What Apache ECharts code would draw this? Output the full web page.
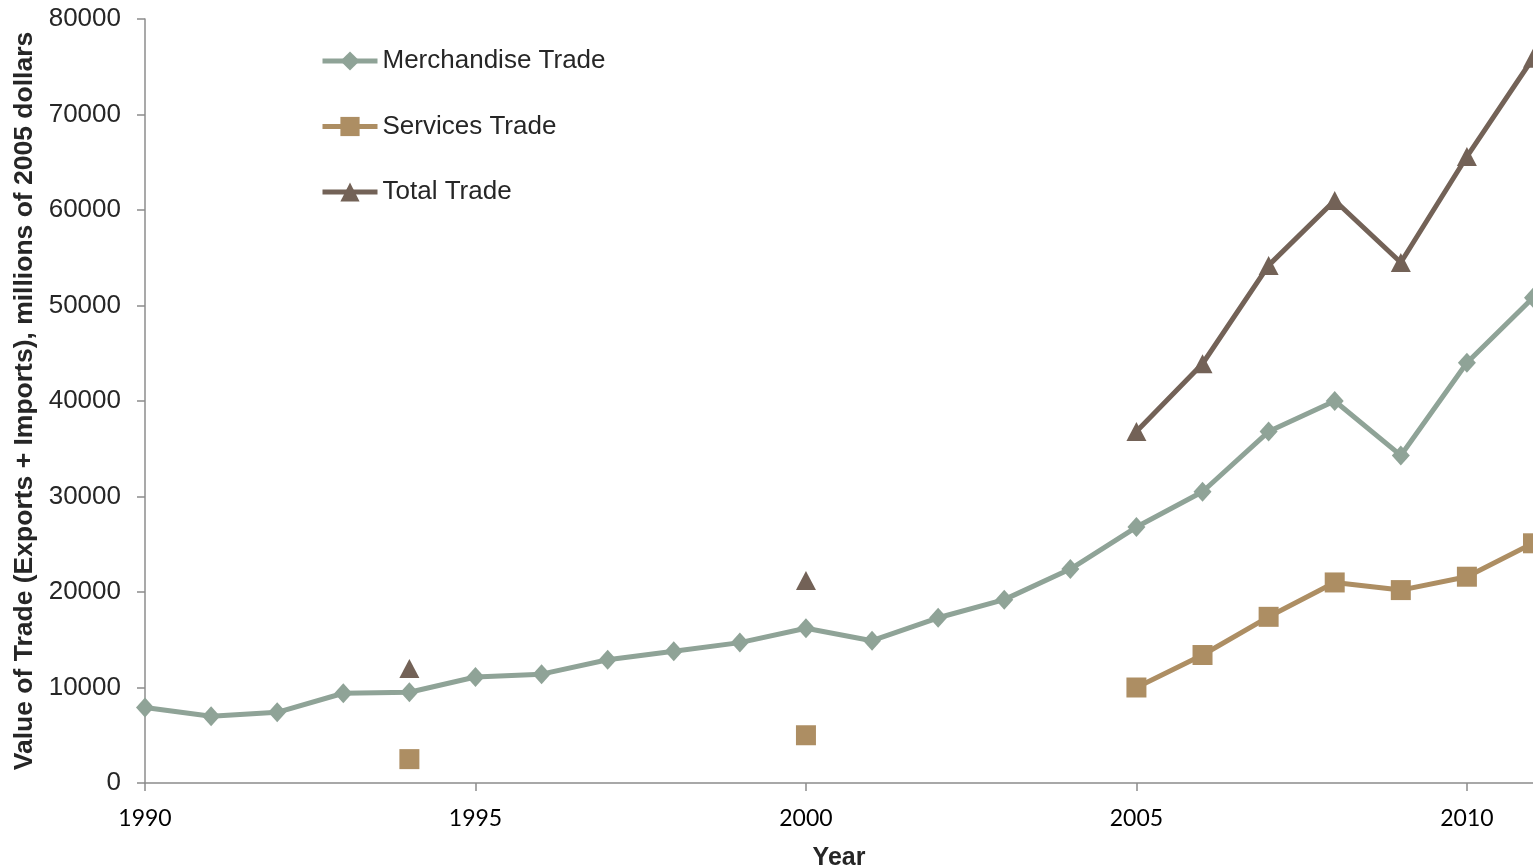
<!DOCTYPE html>
<html>
<head>
<meta charset="utf-8">
<title>Value of Trade</title>
<script src="https://cdn.jsdelivr.net/npm/echarts@6/dist/echarts.min.js"></script>
<style>
  html, body { margin: 0; padding: 0; background: #ffffff; }
  #chart { width: 1533px; height: 868px; }
</style>
</head>
<body>
<div id="chart"></div>
<script>
// Years on the horizontal axis
const years = ['1990','1991','1992','1993','1994','1995','1996','1997','1998','1999','2000',
               '2001','2002','2003','2004','2005','2006','2007','2008','2009','2010','2011'];

// Value of trade, millions of 2005 dollars (null = no observation)
const merchandiseTrade = [7900, 7000, 7400, 9400, 9500, 11100, 11400, 12900, 13800, 14700, 16200,
                          14900, 17300, 19200, 22400, 26800, 30500, 36800, 40000, 34300, 44000, 50800];
const servicesTrade    = [null, null, null, null, 2500, null, null, null, null, null, 5000,
                          null, null, null, null, 10000, 13400, 17400, 21000, 20200, 21600, 25100];
const totalTrade       = [null, null, null, null, 12000, null, null, null, null, null, 21200,
                          null, null, null, null, 36800, 43900, 54200, 61000, 54500, 65600, 75900];

const seriesNames = ['Merchandise Trade', 'Services Trade', 'Total Trade'];
const yTicks = { min: 0, max: 80000, interval: 10000 };

const colors = ['#8fa397', '#ad8e63', '#736257'];

const chart = echarts.init(document.getElementById('chart'), null, { renderer: 'canvas' });

function lineSeries(name, data, color, symbol, size) {
  return {
    name: name,
    type: 'line',
    data: data,
    connectNulls: false,
    symbol: symbol,
    symbolSize: size,
    showAllSymbol: true,
    lineStyle: { color: color, width: 5 },
    itemStyle: { color: color },
    emphasis: { disabled: true },
    clip: false,
    z: 3
  };
}

chart.setOption({
  animation: false,
  backgroundColor: '#ffffff',
  color: colors,
  grid: { left: 145, right: 0, top: 19, bottom: 85, containLabel: false, outerBoundsMode: 'none' },
  legend: {
    orient: 'vertical',
    left: 315,
    top: 43,
    itemWidth: 55,
    itemHeight: 24,
    itemGap: 39.5,
    lineStyle: { width: 5 },
    textStyle: { fontFamily: 'Liberation Sans, Arial, sans-serif', fontSize: 26, color: '#262626' },
    data: seriesNames
  },
  xAxis: {
    type: 'category',
    data: years,
    boundaryGap: false,
    name: 'Year',
    nameLocation: 'middle',
    nameGap: 63,
    nameTextStyle: { fontFamily: 'Liberation Sans, Arial, sans-serif', fontSize: 25, fontWeight: 'bold', color: '#262626' },
    axisLine: { lineStyle: { color: '#8c8c8c', width: 1.5 } },
    axisTick: { show: true, length: 8, interval: function (i) { return i % 5 === 0; }, lineStyle: { color: '#8c8c8c', width: 1.5 } },
    axisLabel: { interval: function (i) { return i % 5 === 0; }, margin: 24, fontFamily: 'Lato, sans-serif', fontSize: 23, color: '#000000' },
    splitLine: { show: false }
  },
  yAxis: {
    type: 'value',
    min: yTicks.min,
    max: yTicks.max,
    interval: yTicks.interval,
    name: 'Value of Trade (Exports + Imports), millions of 2005 dollars',
    nameLocation: 'middle',
    nameGap: 107,
    nameTextStyle: { fontFamily: 'Liberation Sans, Arial, sans-serif', fontSize: 26.5, fontWeight: 'bold', color: '#262626' },
    axisLine: { show: true, lineStyle: { color: '#8c8c8c', width: 1.5 } },
    axisTick: { show: true, length: 8, lineStyle: { color: '#8c8c8c', width: 1.5 } },
    axisLabel: { margin: 24, formatter: function (v) { return String(v); }, fontFamily: 'Liberation Sans, Arial, sans-serif', fontSize: 26, color: '#262626' },
    splitLine: { show: false }
  },
  series: [
    lineSeries(seriesNames[0], merchandiseTrade, colors[0], 'diamond', [18, 20]),
    lineSeries(seriesNames[1], servicesTrade, colors[1], 'rect', 20),
    lineSeries(seriesNames[2], totalTrade, colors[2], 'triangle', [20, 19])
  ]
});
</script>
</body>
</html>
